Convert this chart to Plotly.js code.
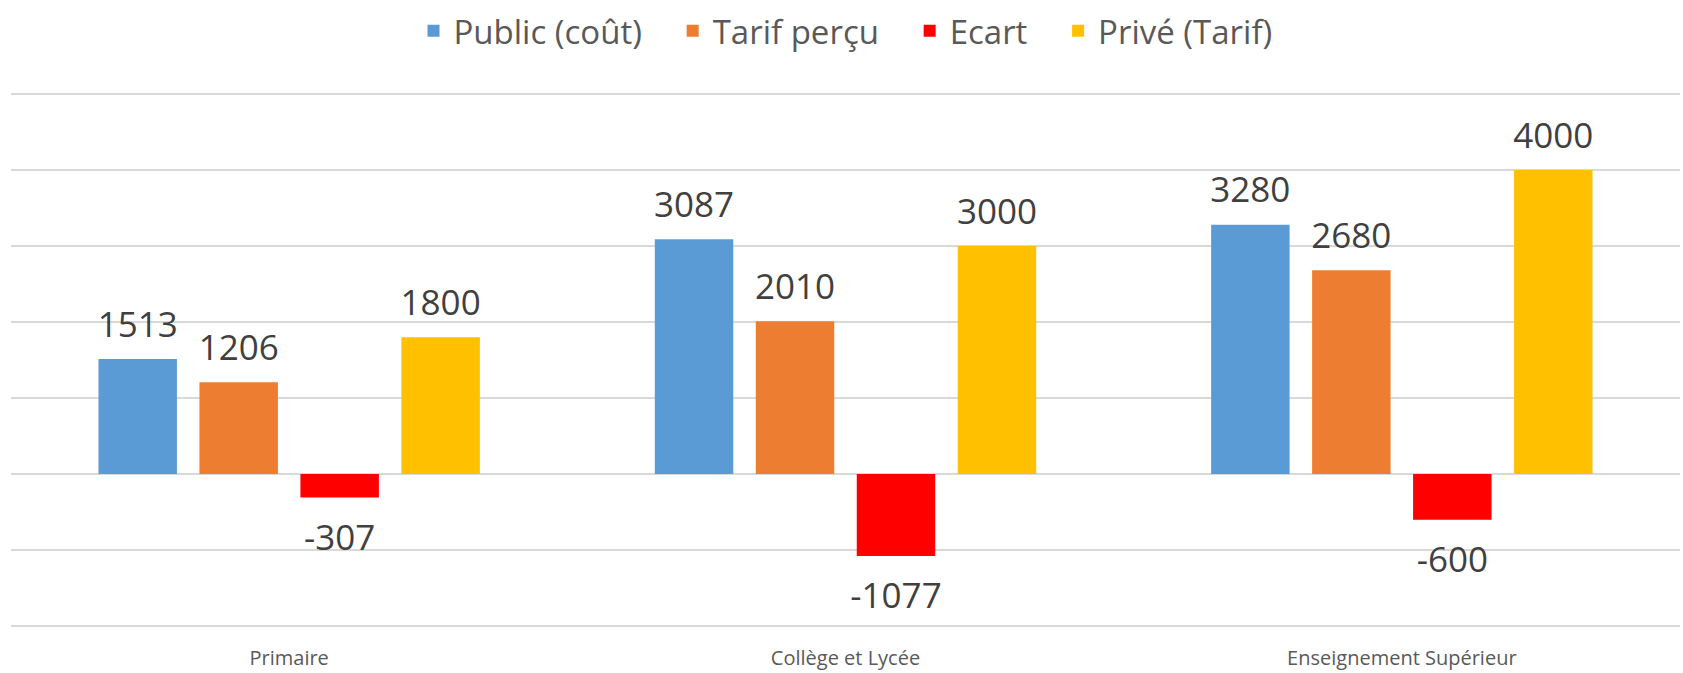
<!DOCTYPE html>
<html>
<head>
<meta charset="utf-8">
<script src="https://cdn.plot.ly/plotly-3.0.1.min.js"></script>
<style>html,body{margin:0;padding:0;background:#fff;}#chart{width:1683px;height:673px;}</style>
</head>
<body>
<div id="chart"></div>
<script>
const categories = ["Primaire", "Collège et Lycée", "Enseignement Supérieur"];
const publicCout = [1513, 3087, 3280];
const tarifPercu = [1206, 2010, 2680];
const ecart = [-307, -1077, -600];
const prive = [1800, 3000, 4000];

const seriesNames = ["Public (coût)", "Tarif perçu", "Ecart", "Privé (Tarif)"];
const seriesValues = [publicCout, tarifPercu, ecart, prive];
const seriesColors = ["#5B9BD5", "#ED7D31", "#FF0000", "#FFC000"];
const legendPad = "\u00a0\u00a0\u00a0";

const barTraces = seriesNames.map((name, i) => ({
  type: "bar",
  name: i < seriesNames.length - 1 ? name + legendPad : name,
  x: categories,
  y: seriesValues[i],
  marker: {color: seriesColors[i]},
  hoverinfo: "x+y"
}));

// value labels, placed with the same grouping as the bars
const labelTraces = seriesNames.map((name, i) => ({
  type: "scatter",
  mode: "markers+text",
  showlegend: false,
  x: categories,
  y: seriesValues[i],
  text: seriesValues[i].map(String),
  textposition: seriesValues[i].map(v => v >= 0 ? "top center" : "bottom center"),
  marker: {size: seriesValues[i].map(v => v >= 0 ? 20 : 40), opacity: 0, color: seriesColors[i]},
  textfont: {family: "Open Sans, sans-serif", size: 35, color: "#404040"},
  cliponaxis: false,
  hoverinfo: "skip"
}));

const layout = {
  width: 1683,
  height: 673,
  margin: {l: 11, r: 3, t: 84, b: 45},
  paper_bgcolor: "#fff",
  plot_bgcolor: "#fff",
  barmode: "group",
  bargap: 0.274,
  bargroupgap: 0.223,
  scattermode: "group",
  scattergap: 0.274,
  showlegend: true,
  legend: {
    orientation: "h",
    x: 0.5, xanchor: "center",
    y: 1.114, yanchor: "middle",
    font: {family: "Open Sans, sans-serif", size: 33, color: "#595959"},
    itemclick: false
  },
  xaxis: {
    type: "category",
    showgrid: false,
    showline: false,
    zeroline: false,
    ticks: "",
    ticklabelstandoff: 16,
    tickfont: {family: "Open Sans, sans-serif", size: 20, color: "#595959"}
  },
  yaxis: {
    range: [-2025, 5025],
    dtick: 1000,
    tick0: 0,
    showticklabels: false,
    showgrid: true,
    gridcolor: "#D9D9D9",
    gridwidth: 1.5,
    zeroline: true,
    zerolinecolor: "#D9D9D9",
    zerolinewidth: 1.5,
    showline: false,
    ticks: ""
  }
};

Plotly.newPlot("chart", barTraces.concat(labelTraces), layout, {displayModeBar: false, staticPlot: true});
</script>
</body>
</html>
